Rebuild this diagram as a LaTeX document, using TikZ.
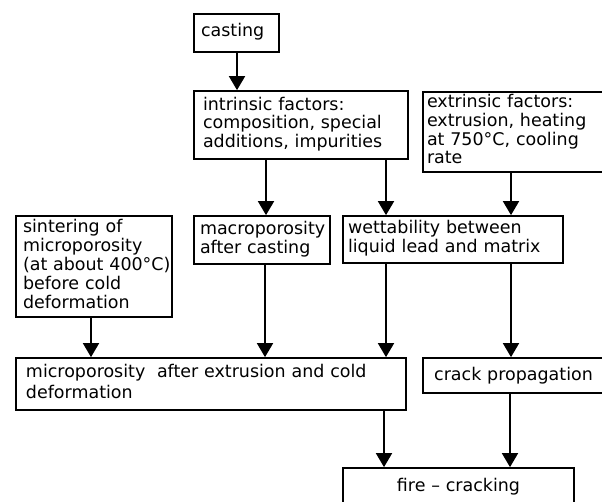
\documentclass[tikz,border=0pt]{standalone}
\usepackage{fontspec}
\setmainfont{DejaVu Sans}
\usetikzlibrary{arrows.meta}
\newcommand{\lns}[1]{\begin{tabular}{@{}l@{}}#1\end{tabular}}
\begin{document}
\begin{tikzpicture}[x=0.75pt,y=-0.75pt,
  box/.style={draw, line width=1.3pt, rectangle, inner ysep=0pt, align=left,
    font=\fontsize{13.1pt}{13.9pt}\selectfont},
  arr/.style={line width=1.3pt, -{Triangle[width=12pt,length=10.5pt]}}]
\useasboundingbox (0,0) rectangle (602,501);
\clip (0,0) rectangle (602,501);
\fill[white] (0,0) rectangle (602,501);

\node[box, minimum width=63.75pt, minimum height=28.5pt, inner xsep=5.25pt, text width=53.25pt]
  (casting) at (236.5,33) {\lns{casting}};
\node[box, minimum width=160.5pt, minimum height=51pt, inner xsep=6.75pt, text width=147pt]
  (intr) at (301,125) {\lns{intrinsic factors:\\composition, special\\additions, impurities}};
\node[box, minimum width=135.75pt, minimum height=60pt, inner xsep=3pt, text width=129.75pt]
  (extr) at (513.5,132) {\lns{extrinsic factors:\\extrusion, heating\\at 750°C, cooling\\rate}};
\node[box, minimum width=102pt, minimum height=36pt, inner xsep=4.5pt, text width=93pt]
  (macro) at (262,240) {\lns{macroporosity\\after casting}};
\node[box, minimum width=165pt, minimum height=35.25pt, inner xsep=3.75pt, text width=157.5pt]
  (wett) at (453,239.5) {\lns{wettability between\\liquid lead and matrix}};
\node[box, minimum width=117pt, minimum height=75.75pt, inner xsep=5.25pt, text width=106.5pt]
  (sinter) at (94,266.5) {\lns{sintering of\\microporosity\\(at about 400°C)\\before cold\\deformation}};
\node[box, minimum width=292.5pt, minimum height=39pt, inner xsep=7.5pt, text width=277.5pt]
  (micro) at (211,384) {\lns{microporosity\ \ after extrusion and cold\\[1.5pt]deformation}};
\node[box, minimum width=135.75pt, minimum height=26.25pt, inner xsep=3pt, text width=129.75pt, align=center]
  (crack) at (513.5,375.5) {crack propagation};
\node[box, minimum width=173.25pt, minimum height=28.5pt, inner xsep=3pt, text width=167.25pt, align=center]
  (fire) at (458.5,487) {fire -- cracking\hspace*{10pt}};

\coordinate (xa) at (237,0);
\coordinate (xb) at (266,0);
\coordinate (xc) at (386,0);
\coordinate (xd) at (511,0);
\coordinate (xe) at (91,0);
\coordinate (xf) at (265,0);
\coordinate (xg) at (384,0);
\coordinate (xh) at (510,0);

\draw[arr] (casting.south -| xa) -- (intr.north -| xa);
\draw[arr] (intr.south -| xb) -- (macro.north -| xb);
\draw[arr] (intr.south -| xc) -- (wett.north -| xc);
\draw[arr] (extr.south -| xd) -- (wett.north -| xd);
\draw[arr] (sinter.south -| xe) -- (micro.north -| xe);
\draw[arr] (macro.south -| xf) -- (micro.north -| xf);
\draw[arr] (wett.south -| xc) -- (micro.north -| xc);
\draw[arr] (wett.south -| xd) -- (crack.north -| xd);
\draw[arr] (micro.south -| xg) -- (fire.north -| xg);
\draw[arr] (crack.south -| xh) -- (fire.north -| xh);
\end{tikzpicture}
\end{document}
